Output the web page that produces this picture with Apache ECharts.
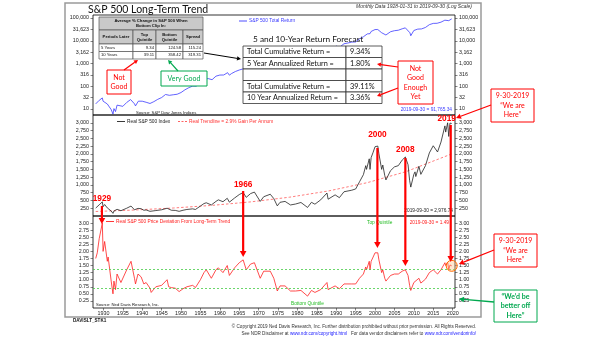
<!DOCTYPE html>
<html><head><meta charset="utf-8">
<script src="https://cdn.jsdelivr.net/npm/echarts@6/dist/echarts.min.js"></script>
<style>html,body{margin:0;padding:0;background:#fff}#c{width:605px;height:341px}</style>
</head><body><div id="c"></div>
<script>
// ---------- DATA ----------
const totalReturn = [[1928.0,16.8],[1928.9,24.1],[1929.7,30.7],[1929.9,22.1],[1930.3,26.7],[1930.99,16.6],[1931.2,20],[1931.99,9.4],[1932.45,6.0],[1932.7,10.4],[1933.1,7.7],[1933.5,14.8],[1933.99,13.2],[1934.99,13.1],[1935.99,19.4],[1936.99,26],[1937.2,26.8],[1937.99,16.9],[1938.25,13.7],[1938.99,22.1],[1939.99,22],[1940.99,19.8],[1941.99,17.5],[1942.3,15.9],[1942.99,21.1],[1943.99,26.6],[1944.99,31.9],[1945.99,43.5],[1946.4,49],[1946.99,40],[1947.99,42.3],[1948.99,44.6],[1949.99,53],[1950.99,69.8],[1951.99,86.5],[1952.99,102],[1953.99,101],[1954.99,154],[1955.99,204],[1956.99,218],[1957.99,194],[1958.99,278],[1959.99,311],[1960.99,313],[1961.99,396],[1962.45,307],[1962.99,361],[1963.99,445],[1964.99,518],[1965.99,583],[1966.8,493],[1966.99,523],[1967.99,649],[1968.99,720],[1969.99,660],[1970.4,548],[1970.99,687],[1971.99,785],[1972.99,934],[1973.99,797],[1974.75,526],[1974.99,586],[1975.99,804],[1976.99,995],[1977.99,924],[1978.99,984],[1979.99,1166],[1980.99,1544],[1981.99,1468],[1982.6,1369],[1982.99,1784],[1983.99,2186],[1984.99,2321],[1985.99,3056],[1986.99,3621],[1987.65,4818],[1987.85,3614],[1987.99,3811],[1988.99,4446],[1989.99,5853],[1990.8,5147],[1990.99,5667],[1991.99,7398],[1992.99,7965],[1993.99,8761],[1994.99,8875],[1995.99,12197],[1996.99,15002],[1997.99,20017],[1998.5,24090],[1998.7,20590],[1998.99,25743],[1999.99,31160],[2000.7,31200],[2000.99,28320],[2001.7,22560],[2001.99,24960],[2002.8,17960],[2002.99,19440],[2003.99,25020],[2004.99,27740],[2005.99,29100],[2006.99,33690],[2007.8,37010],[2007.99,35540],[2008.99,22390],[2009.2,16640],[2009.99,28320],[2010.99,32580],[2011.99,33270],[2012.99,38590],[2013.99,51090],[2014.99,58080],[2015.99,58880],[2016.99,65920],[2017.99,80310],[2018.99,76790],[2019.75,91765.34]];

const realIndex = [[1928.0,255],[1928.9,360],[1929.7,455],[1929.9,300],[1930.3,370],[1930.99,260],[1931.2,300],[1931.99,160],[1932.45,85],[1932.7,160],[1933.1,115],[1933.5,215],[1934.5,170],[1935.0,175],[1935.99,250],[1937.1,320],[1937.99,200],[1938.25,165],[1938.9,245],[1939.7,235],[1940.4,185],[1940.99,195],[1941.99,150],[1942.3,120],[1943.5,175],[1944.99,200],[1946.4,250],[1946.8,190],[1947.5,185],[1948.5,180],[1949.5,150],[1950.5,185],[1951.5,210],[1952.99,230],[1953.7,210],[1954.99,320],[1955.9,400],[1956.5,425],[1957.8,355],[1958.99,470],[1959.6,520],[1960.8,460],[1961.9,570],[1962.45,445],[1963.8,580],[1965.0,690],[1966.0,755],[1966.8,600],[1967.9,720],[1968.9,770],[1970.4,470],[1971.3,620],[1972.99,700],[1973.9,560],[1974.8,325],[1975.5,440],[1976.8,470],[1978.2,355],[1979.5,385],[1980.9,435],[1982.6,275],[1983.6,440],[1984.5,380],[1985.99,520],[1987.6,740],[1987.9,540],[1989.7,680],[1990.8,590],[1991.99,780],[1993.99,830],[1995.0,870],[1995.99,1100],[1996.99,1330],[1997.6,1620],[1997.8,1500],[1998.5,1840],[1998.7,1500],[1998.99,1880],[1999.5,2050],[1999.99,2230],[2000.3,2180],[2000.7,2250],[2000.99,2000],[2001.7,1500],[2001.99,1640],[2002.5,1300],[2002.8,1160],[2003.2,1170],[2003.99,1460],[2004.99,1580],[2005.99,1620],[2006.99,1800],[2007.8,1900],[2008.5,1650],[2008.9,1150],[2009.2,930],[2009.99,1340],[2010.3,1420],[2010.5,1270],[2011.3,1600],[2011.8,1340],[2012.99,1620],[2013.99,2030],[2014.99,2260],[2015.4,2300],[2016.1,2060],[2016.99,2380],[2018.0,2900],[2018.2,2700],[2018.7,3000],[2018.99,2560],[2019.3,2990],[2019.75,2976.74]];

const realTrend = [[1928.0,145],[1938.0,193],[1948.0,257],[1958.0,342],[1968.0,455],[1978.0,606],[1988.0,806],[1998.0,1073],[2008.0,1428],[2019.75,1998]];

const deviation = [[1928.0,1.75],[1928.4,1.95],[1928.9,2.45],[1929.2,2.4],[1929.7,3.0],[1929.9,2.0],[1930.3,2.35],[1930.99,1.65],[1931.2,1.8],[1931.99,0.95],[1932.45,0.5],[1932.7,0.95],[1933.1,0.65],[1933.5,1.2],[1934.5,0.9],[1935.0,0.95],[1935.99,1.35],[1937.1,1.65],[1937.99,1.05],[1938.25,0.85],[1938.9,1.2],[1939.7,1.1],[1940.4,0.85],[1940.99,0.9],[1941.99,0.7],[1942.3,0.55],[1943.5,0.75],[1944.99,0.8],[1946.4,1.0],[1946.8,0.75],[1947.5,0.72],[1948.5,0.7],[1949.5,0.58],[1950.5,0.68],[1951.5,0.75],[1952.99,0.8],[1953.7,0.72],[1954.99,1.0],[1955.9,1.25],[1956.5,1.35],[1957.8,1.05],[1958.99,1.35],[1959.6,1.42],[1960.8,1.25],[1961.9,1.5],[1962.45,1.15],[1963.8,1.42],[1965.0,1.6],[1966.0,1.7],[1966.8,1.35],[1967.9,1.55],[1968.9,1.6],[1970.4,1.05],[1971.3,1.3],[1972.99,1.3],[1973.9,1.05],[1974.8,0.6],[1975.5,0.78],[1976.8,0.78],[1978.2,0.6],[1979.5,0.6],[1980.9,0.62],[1982.6,0.42],[1983.6,0.62],[1984.5,0.55],[1985.99,0.65],[1987.6,0.9],[1987.9,0.65],[1989.7,0.78],[1990.8,0.68],[1991.99,0.85],[1993.99,0.85],[1995.0,0.85],[1995.99,1.05],[1996.99,1.2],[1997.6,1.45],[1997.8,1.35],[1998.5,1.65],[1998.7,1.35],[1998.99,1.65],[1999.5,1.8],[1999.99,1.95],[2000.3,1.9],[2000.7,1.95],[2000.99,1.7],[2001.7,1.25],[2001.99,1.35],[2002.5,1.05],[2002.8,0.95],[2003.2,0.95],[2003.99,1.15],[2004.99,1.2],[2005.99,1.2],[2006.99,1.3],[2007.8,1.35],[2008.5,1.15],[2008.9,0.8],[2009.2,0.62],[2009.99,0.9],[2010.3,0.95],[2010.5,0.85],[2011.3,1.05],[2011.8,0.88],[2012.99,1.02],[2013.99,1.25],[2014.99,1.35],[2015.4,1.35],[2016.1,1.2],[2016.99,1.35],[2018.0,1.6],[2018.2,1.5],[2018.7,1.62],[2018.99,1.35],[2019.3,1.52],[2019.75,1.49]];

const topQuintile = 1.38;
const bottomQuintile = 0.69;
const yearTicks = [1930,1935,1940,1945,1950,1955,1960,1965,1970,1975,1980,1985,1990,1995,2000,2005,2010,2015,2020];
const eventYears = [['1929',1929.6],['1966',1966.0],['2000',2000.6],['2008',2007.8],['2019',2019.5]];
const avgHeader = ['Periods Later','Top\nQuintile','Bottom\nQuintile','Spread'];
const avgRows = [['5 Years','9.34','124.58','115.24'],['10 Years','39.11','358.42','319.31']];
const forecastRows = [['Total Cumulative Return =','9.34%'],['5 Year Annualized Return =','1.80%'],['',''],['Total Cumulative Return =','39.11%'],['10 Year Annualized Return =','3.36%']];

// ---------- CHART ----------
const chart = echarts.init(document.getElementById('c'), null, {renderer:'canvas'});
const AX = 'Liberation Sans';
const gridL = 93, gridR = 150;
const grids = [
  {left:gridL, right:gridR, top:15, height:100},
  {left:gridL, right:gridR, top:115, height:101},
  {left:gridL, right:gridR, top:216, height:92}
].map(g => Object.assign({show:true, borderColor:'#000', borderWidth:0.8, backgroundColor:'rgba(0,0,0,0)'}, g));

const xMin = 1927.3, xMax = 2020.6;
function xAx(i, showLabels){
  return {type:'value', gridIndex:i, min:xMin, max:xMax, show:showLabels,
    axisLine:{show:false}, splitLine:{show:false},
    axisTick:{show:showLabels, customValues:yearTicks, length:2.5, lineStyle:{color:'#333', width:0.6}},
    axisLabel:{show:showLabels, customValues:yearTicks, fontSize:5.4, fontFamily:AX, color:'#222', margin:3, formatter:v=>String(v)}};
}
const fmtInt = v => Math.round(v).toLocaleString('en-US');
function yLog(pos){
  return {type:'log', logBase:Math.sqrt(10), gridIndex:0, position:pos, min:5.45, max:136000,
    axisLine:{show:false}, splitLine:{show:false}, minorTick:{show:false},
    axisTick:{length:2.5, lineStyle:{color:'#333', width:0.6}},
    axisLabel:{fontSize:5.3, fontFamily:AX, color:'#222', margin:4, showMinLabel:false, showMaxLabel:false, formatter:fmtInt}};
}
function yLin(gi, pos, max, interval, fmt){
  return {type:'value', gridIndex:gi, position:pos, min:0, max:max, interval:interval,
    axisLine:{show:false}, splitLine:{show:false},
    axisTick:{length:2.5, lineStyle:{color:'#333', width:0.6}},
    axisLabel:{fontSize:5.3, fontFamily:AX, color:'#222', margin:4, showMinLabel:false, showMaxLabel:false, formatter:fmt}};
}

// graphics helpers
const G = [];
function txt(x,y,t,size,color,o){ o=o||{};
  G.push({type:'text', x:x, y:y, silent:true, z:o.z||20,
    style:{text:t, font:(o.italic?'italic ':'')+(o.bold?'bold ':'')+size+'px '+(o.family||'Lato'),
      fill:color, align:o.align||'left', verticalAlign:o.va||'middle', lineHeight:o.lh, rich:o.rich}});
}
function rect(x,y,w,h,fill,stroke,lw,z){ G.push({type:'rect', shape:{x:x,y:y,width:w,height:h}, silent:true, z:z||15, style:{fill:fill, stroke:stroke, lineWidth:lw||1}}); }
function seg(x1,y1,x2,y2,color,w,dash){ G.push({type:'line', shape:{x1:x1,y1:y1,x2:x2,y2:y2}, silent:true, z:21, style:{stroke:color, lineWidth:w, lineDash:dash||null}}); }
function arrow(x1,y1,x2,y2,color,w,hs){
  const a=Math.atan2(y2-y1,x2-x1), bx=x2-hs*Math.cos(a), by=y2-hs*Math.sin(a);
  seg(x1,y1,bx,by,color,w);
  const px=-Math.sin(a)*hs*0.55, py=Math.cos(a)*hs*0.55;
  G.push({type:'polygon', shape:{points:[[x2,y2],[bx+px,by+py],[bx-px,by-py]]}, silent:true, z:21, style:{fill:color}});
}

// outer frame and title
rect(65,3,416,314,'none','#9a9a9a',1.5,1);
txt(88,10,'S&P 500 Long-Term Trend',10.5,'#111');
txt(472,7,'Monthly Data 1928-01-31 to 2019-09-30 (Log Scale)',5,'#333',{italic:true,align:'right',family:AX});

// top legend + notes
seg(239,21,247,21,'#3b3bff',0.9); txt(249,21,'S&P 500 Total Return',4.8,'#3b3bff',{family:AX});
txt(452,109.5,'2019-09-30 = 91,765.34',4.8,'#3b3bff',{align:'right',family:AX});
txt(136,112.5,'Source: S&P Dow Jones Indices',4.2,'#111',{family:AX});

// average % change table
const cx=[99,133,156,183,203], ry=[17,30,44,51.5,59];
rect(cx[0],ry[0],cx[4]-cx[0],ry[1]-ry[0],'#c9c9c9','#555',0.7);
txt((cx[0]+cx[4])/2,(ry[0]+ry[1])/2,'Average % Change in S&P 500 When\nBottom Clip In:',4.2,'#111',{bold:true,align:'center',family:AX,lh:5});
for(let i=0;i<4;i++){
  rect(cx[i],ry[1],cx[i+1]-cx[i],ry[2]-ry[1],'#c9c9c9','#555',0.7);
  txt((cx[i]+cx[i+1])/2,(ry[1]+ry[2])/2,avgHeader[i],4.2,'#111',{bold:true,align:'center',family:AX,lh:5});
}
avgRows.forEach((r,j)=>{
  for(let i=0;i<4;i++){
    rect(cx[i],ry[2+j],cx[i+1]-cx[i],ry[3+j]-ry[2+j],'#fff','#555',0.7);
    if(i===0) txt(cx[i]+2,(ry[2+j]+ry[3+j])/2,r[i],4.2,'#111',{family:AX});
    else txt(cx[i+1]-2,(ry[2+j]+ry[3+j])/2,r[i],4.2,'#111',{family:AX,align:'right'});
  }
});
arrow(204,53,241,59,'#000',1,4);

// Not Good / Very Good boxes
rect(107,70,24,24,'#fff','#ff0000',1);
txt(119,82,'Not\nGood',7,'#ff0000',{align:'center',lh:9});
arrow(124,70,138,60,'#ff0000',1.2,4);
rect(161,71,46,15,'#fff','#00a84f',1);
txt(184,78.5,'Very Good',7,'#00a84f',{align:'center'});
arrow(178,71,168,60,'#00a84f',1.2,4);

// forecast table
txt(253,39,'5 and 10-Year Return Forecast',8.3,'#111');
const fx=[243,346,382], fy=[46,57.5,69,80.5,92,103.5];
forecastRows.forEach((r,j)=>{
  rect(fx[0],fy[j],fx[1]-fx[0],fy[j+1]-fy[j],'#fff','#333',0.8);
  rect(fx[1],fy[j],fx[2]-fx[1],fy[j+1]-fy[j],'#fff','#333',0.8);
  txt(fx[0]+4,(fy[j]+fy[j+1])/2,r[0],7.3,'#111');
  txt(fx[1]+4,(fy[j]+fy[j+1])/2,r[1],7.3,'#111');
});
rect(398,61,35,43,'#fff','#ff0000',1);
txt(415.5,82.5,'Not\nGood\nEnough\nYet',7,'#ff0000',{align:'center',lh:9.5});
arrow(398,67,377,64,'#ff0000',1.2,4);
arrow(398,88,377,96,'#ff0000',1.2,4);

// middle legend + note
seg(117,121.5,125,121.5,'#222',0.9); txt(127,121.5,'Real S&P 500 Index',4.8,'#222',{family:AX});
seg(178,121.5,187,121.5,'#ff5050',0.9,[2,1.5]); txt(189,121.5,'Real Trendline = 2.9% Gain Per Annum',4.8,'#ff3030',{family:AX});
txt(453,211,'2019-09-30 = 2,976.74',4.8,'#222',{align:'right',family:AX});

// bottom legend + notes
seg(106,221.5,114,221.5,'#ff2020',0.9); txt(116,221.5,'Real S&P 500 Price Deviation From Long-Term Trend',4.8,'#ff2020',{family:AX});
txt(367,222.5,'Top Quintile',4.8,'#22bb22',{family:AX});
txt(449,222.5,'2019-09-30 = 1.49',4.8,'#ff2020',{align:'right',family:AX});
txt(291,304,'Bottom Quintile',4.8,'#22bb22',{family:AX});
txt(96,304.5,'Source: Ned Davis Research, Inc.',4.2,'#111',{family:AX});

// right side boxes
rect(491,89,43,33,'#fff','#ff0000',1);
txt(512.5,105.5,'9-30-2019\n\u201cWe are\nHere\u201d',7,'#ff0000',{align:'center',lh:9.5});
arrow(491,105,456,118,'#ff0000',1.3,5);
rect(494,234,43,33,'#fff','#ff0000',1);
txt(515.5,250.5,'9-30-2019\n\u201cWe are\nHere\u201d',7,'#ff0000',{align:'center',lh:9.5});
arrow(494,250,459,264,'#ff0000',1.3,5);
rect(494,290,43,32,'#fff','#00a84f',1);
txt(515.5,306,'\u201cWe\u2019d be\nbetter off\nHere\u201d',7,'#00a84f',{align:'center',lh:9.5,bold:true});
arrow(494,302,459,299,'#00a84f',1.3,5);

// footer
txt(73,321,'DAVISLT_STK1',4.6,'#111',{bold:true,family:AX});
txt(476,327,'\u00a9 Copyright 2019 Ned Davis Research, Inc. Further distribution prohibited without prior permission. All Rights Reserved.',4.6,'#333',{align:'right',family:AX});
txt(476,333.5,'See NDR Disclaimer at {l|www.ndr.com/copyright.html}   For data vendor disclaimers refer to {l|www.ndr.com/vendorinfo/}',4.6,'#333',{align:'right',family:AX,rich:{l:{fill:'#1a1aff',font:'4.6px '+AX}}});

const option = {
  animation:false,
  backgroundColor:'#fff',
  grid: grids,
  xAxis:[xAx(0,false), xAx(1,false), xAx(2,true)],
  yAxis:[yLog('left'), yLog('right'),
    yLin(1,'left',3250,250,fmtInt), yLin(1,'right',3250,250,fmtInt),
    yLin(2,'left',3.25,0.25,v=>v.toFixed(2)), yLin(2,'right',3.25,0.25,v=>v.toFixed(2))],
  series:[
    {type:'line', name:'S&P 500 Total Return', xAxisIndex:0, yAxisIndex:0, data:totalReturn, showSymbol:false, lineStyle:{color:'#3b3bff', width:0.8}, z:3},
    {type:'line', name:'Real S&P 500 Index', xAxisIndex:1, yAxisIndex:2, data:realIndex, showSymbol:false, lineStyle:{color:'#222', width:0.8}, z:3},
    {type:'line', name:'Real Trendline', xAxisIndex:1, yAxisIndex:2, data:realTrend, showSymbol:false, lineStyle:{color:'#ff5a5a', width:0.8, type:[2.5,2]}, z:2},
    {type:'line', name:'Deviation', xAxisIndex:2, yAxisIndex:4, data:deviation, showSymbol:false, lineStyle:{color:'#ff2020', width:0.8}, z:3,
      markLine:{silent:true, symbol:['none','none'], label:{show:false}, lineStyle:{color:'#44cc44', type:[2,2], width:0.8},
        data:[{yAxis:topQuintile},{yAxis:bottomQuintile}]},
      markPoint:{silent:true, symbol:'circle', symbolSize:11, label:{show:false},
        itemStyle:{color:'rgba(255,190,120,0.35)', borderColor:'#ff6a00', borderWidth:1},
        data:[{coord:deviation[deviation.length-1]}]}}
  ],
  graphic: G
};
chart.setOption(option);

// event arrows positioned through the x scale
const labY = {'1929':[199,206,224],'1966':[185,191,257],'2000':[135,148,248],'2008':[150,158,266],'2019':[119,125,262]};
eventYears.forEach(([lab,yr])=>{
  const px = chart.convertToPixel({xAxisIndex:2}, yr);
  const [ly,y1,y2] = labY[lab];
  const off = lab==='2019' ? -4 : 0;
  txt(px+off,ly,lab,8.3,'#ff0000',{bold:true,align:'center',family:AX});
  arrow(px,y1,px,y2,'#ff0000',2.2,6);
});
chart.setOption({graphic:G});
</script></body></html>
